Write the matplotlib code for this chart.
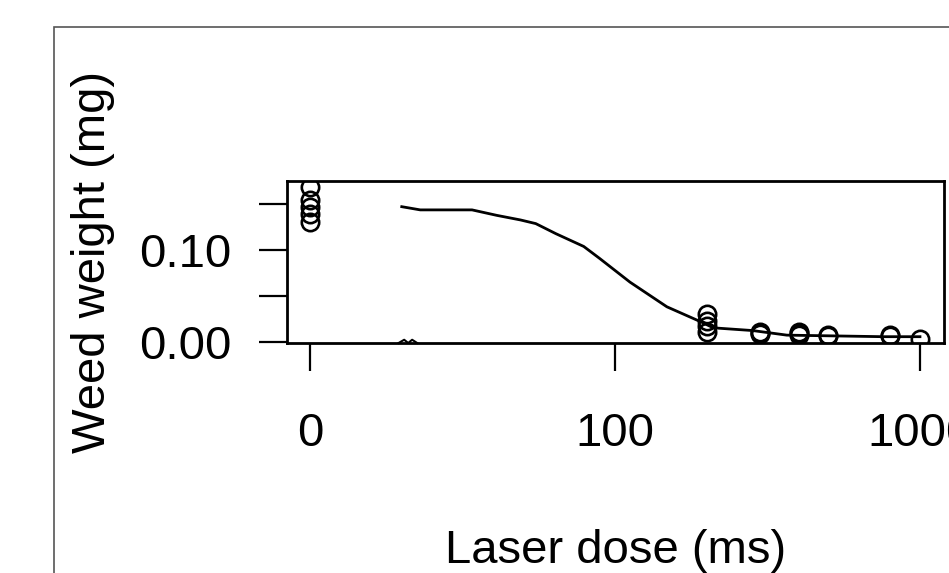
import numpy as np
import matplotlib.pyplot as plt
from matplotlib.patches import Rectangle

plt.rcParams['font.family'] = ['Liberation Sans', 'DejaVu Sans']

# observed weed weights (mg); dose 0 is drawn at the break position (10)
dose = [0, 0, 0, 0, 0,
        200, 200, 200, 200,
        300, 300, 300,
        400, 400, 400,
        500, 500,
        800, 800,
        1000]
weight = [0.169, 0.155, 0.147, 0.139, 0.131,
          0.030, 0.022, 0.017, 0.0105,
          0.010, 0.009, 0.008,
          0.010, 0.009, 0.007,
          0.007, 0.006,
          0.007, 0.006,
          0.003]

# fitted dose-response curve
curve_dose = [20, 23, 34, 41, 49, 55, 64, 79, 89, 112, 148, 190, 210, 283, 366, 757, 1000]
curve_wt = [0.1475, 0.144, 0.144, 0.138, 0.133, 0.129, 0.118, 0.104, 0.091,
            0.065, 0.038, 0.022, 0.015, 0.012, 0.007, 0.0053, 0.0053]

zero_pos = 10      # where dose 0 is drawn on the log axis
brk = 21           # axis break

xticks = [10, 100, 1000]
xticklabels = ['0', '100', '1000']
yticks = [0.0, 0.05, 0.10, 0.15]
yticklabels = ['0.00', '', '0.10', '']

fig = plt.figure(figsize=(9.49, 5.73), dpi=100)
fig.patches.append(Rectangle((54/949, -0.2), 1.2, 0.2 + 1 - 27/573,
                             transform=fig.transFigure, fill=False,
                             edgecolor='#555555', linewidth=1.2))

ax = fig.add_axes([287/949, 1 - 343/573, 657/949, 162/573])
ax.set_xscale('log')

xplot = [zero_pos if d == 0 else d for d in dose]
ax.plot(xplot, weight, 'o', mfc='none', mec='black', ms=12.5, mew=1.9)
ax.plot(curve_dose, curve_wt, color='black', lw=2)

# little break mark on the x axis
bx = brk * np.array([0.93, 0.97, 1.0, 1.03, 1.07])
ax.plot(bx, [0, 0.02, 0.0, 0.02, 0], color='black', lw=1.5,
        transform=ax.get_xaxis_transform(), clip_on=False)

ax.set_xlim(8.41, 1199)
ax.set_ylim(-0.0016, 0.1756)
ax.set_xticks(xticks)
ax.set_xticklabels(xticklabels)
ax.minorticks_off()
ax.set_yticks(yticks)
ax.set_yticklabels(yticklabels)

for s in ax.spines.values():
    s.set_linewidth(2)
ax.tick_params(axis='both', length=20, width=1.6, labelsize=34)
ax.tick_params(axis='x', pad=30)
ax.tick_params(axis='y', pad=20)

ax.set_xlabel('Laser dose (ms)', fontsize=34, labelpad=52)
ax.set_ylabel('Weed weight (mg)', fontsize=34, labelpad=17)

fig.savefig('out.png', dpi=100)
